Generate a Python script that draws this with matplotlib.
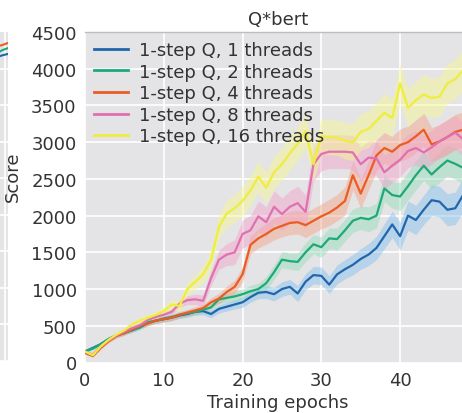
import numpy as np
import matplotlib
matplotlib.use("Agg")
import matplotlib.pyplot as plt

epochs = list(range(50))

blue = [150, 200, 250, 320, 370, 410, 440, 480, 540, 570,
        590, 610, 640, 660, 690, 700, 660, 730, 760, 790,
        820, 890, 950, 960, 930, 1000, 1030, 940, 1100, 1190,
        1180, 1060, 1200, 1270, 1330, 1410, 1470, 1560, 1720, 1880,
        1720, 2000, 1940, 2080, 2210, 2190, 2080, 2100, 2280, 2300]
green = [150, 190, 250, 320, 370, 400, 440, 480, 550, 570,
         600, 620, 650, 670, 690, 720, 750, 860, 880, 900,
         930, 970, 1000, 1080, 1230, 1400, 1380, 1370, 1500, 1610,
         1570, 1690, 1680, 1800, 1930, 1970, 1950, 2000, 2370, 2280,
         2260, 2400, 2550, 2680, 2560, 2660, 2750, 2705, 2650, 2700]
orange = [130, 90, 200, 290, 360, 400, 450, 500, 530, 570,
          590, 610, 650, 680, 710, 740, 820, 870, 960, 1030,
          1200, 1600, 1690, 1750, 1820, 1860, 1900, 1910, 1870, 1930,
          1990, 2040, 2110, 2200, 2550, 2300, 2550, 2820, 2920, 2870,
          2960, 3000, 3080, 3170, 2970, 3010, 3070, 3140, 3170, 3200]
pink = [140, 110, 220, 300, 370, 420, 470, 510, 580, 620,
        650, 690, 800, 850, 860, 840, 1150, 1400, 1470, 1500,
        1750, 1800, 1990, 1910, 2120, 2020, 2120, 2170, 2050, 2700,
        2840, 2870, 2870, 2870, 2860, 2700, 2790, 2780, 2590, 2680,
        2760, 2880, 2920, 2860, 2930, 3010, 3070, 3130, 3040, 3080]
yellow = [150, 100, 220, 310, 380, 440, 520, 570, 610, 650,
          700, 790, 770, 1000, 1100, 1200, 1400, 1850, 2030, 2100,
          2200, 2340, 2530, 2380, 2590, 2700, 2850, 2980, 3150, 2700,
          3080, 3070, 3060, 3020, 3000, 3140, 3180, 3290, 3400, 3330,
          3800, 3470, 3570, 3650, 3600, 3620, 3800, 3860, 3980, 3950]

# half-widths of the shaded spread
blue_sd = [20, 20, 25, 25, 30, 30, 30, 30, 35, 35,
           40, 40, 40, 45, 45, 50, 50, 55, 60, 60,
           70, 70, 80, 90, 90, 100, 100, 110, 110, 120,
           120, 120, 130, 130, 140, 140, 150, 160, 170, 180,
           190, 200, 200, 200, 210, 210, 220, 220, 230, 230]
green_sd = [20, 20, 25, 25, 30, 30, 30, 30, 35, 35,
            40, 40, 40, 45, 45, 50, 50, 60, 60, 70,
            70, 80, 80, 90, 100, 110, 110, 120, 130, 130,
            140, 140, 150, 150, 160, 160, 170, 170, 180, 180,
            190, 190, 200, 200, 200, 210, 210, 210, 220, 220]
orange_sd = [20, 20, 25, 25, 30, 30, 30, 30, 35, 35,
             40, 40, 45, 45, 50, 50, 60, 70, 80, 90,
             100, 120, 130, 140, 150, 150, 160, 160, 170, 170,
             170, 180, 180, 190, 200, 200, 200, 210, 210, 210,
             220, 220, 220, 230, 230, 230, 240, 240, 240, 240]
pink_sd = [20, 20, 25, 25, 30, 30, 35, 35, 40, 40,
           40, 45, 50, 60, 70, 80, 100, 130, 150, 170,
           190, 200, 210, 210, 220, 220, 220, 230, 230, 230,
           230, 230, 230, 230, 230, 230, 230, 230, 230, 230,
           230, 230, 230, 230, 230, 230, 230, 230, 230, 230]
yellow_sd = [20, 20, 25, 25, 30, 30, 40, 40, 50, 50,
             60, 70, 70, 90, 100, 120, 140, 160, 180, 190,
             200, 200, 210, 210, 220, 220, 230, 230, 230, 240,
             240, 240, 240, 250, 250, 250, 250, 250, 260, 260,
             260, 260, 260, 270, 270, 270, 270, 270, 280, 280]

labels = ["1-step Q, 1 threads", "1-step Q, 2 threads", "1-step Q, 4 threads",
          "1-step Q, 8 threads", "1-step Q, 16 threads"]
series = [blue, green, orange, pink, yellow]
spreads = [blue_sd, green_sd, orange_sd, pink_sd, yellow_sd]
colors = ["#2166ac", "#1fa87a", "#ea5d22", "#e070b0", "#eeee3e"]
band_colors = ["#7fbfef", "#8fdcb8", "#f4a080", "#f2a0c8", "#f6f68a"]

# neighbouring panel (only its right edge is visible)
nb_x = [0, 10, 20, 30, 40, 48, 49, 50]
nb_a = [500, 1500, 2500, 3500, 4100, 4300, 4320, 4350]
nb_b = [400, 1300, 2300, 3300, 4000, 4200, 4250, 4280]
nb_c = [300, 1100, 2100, 3100, 3900, 4150, 4180, 4200]

bg = "#e4e4e6"
grid_c = "white"
text_c = "#333333"
fs = 13

W, H = 462, 414
fig = plt.figure(figsize=(W / 100, H / 100), dpi=100)

ax0 = fig.add_axes([(8 - 300) / W, 1 - 362 / H, 300 / W, (362 - 33) / H])
ax0.set_facecolor(bg)
for s in ax0.spines.values():
    s.set_visible(False)
ax0.set_xlim(0, 50)
ax0.set_ylim(0, 4500)
ax0.set_yticks([0, 500, 1000, 1500, 2000, 2500, 3000, 3500, 4000])
ax0.set_xticks([0, 10, 20, 30, 40, 49.5])
ax0.grid(True, color=grid_c, lw=1.2)
ax0.set_axisbelow(True)
ax0.tick_params(labelleft=False, labelbottom=False, length=0)
for yv, c in zip([nb_a, nb_b, nb_c], ["#ea5d22", "#1fa87a", "#2166ac"]):
    ax0.plot(nb_x, yv, color=c, lw=1.5)

ax = fig.add_axes([85 / W, 1 - 363.5 / H, 386 / W, (363.5 - 33) / H])
ax.set_facecolor(bg)
for i in range(5):
    x = np.array(epochs)
    y = np.array(series[i], dtype=float)
    sd = np.array(spreads[i], dtype=float)
    ax.fill_between(x, y - sd, y + sd, color=band_colors[i], alpha=0.45, lw=0)
for i in range(5):
    ax.plot(epochs, series[i], color=colors[i], lw=1.6, label=labels[i])

ax.set_xlim(0, 49)
ax.set_ylim(0, 4500)
ax.set_xticks([0, 10, 20, 30, 40])
ax.set_yticks(range(0, 4501, 500))
ax.grid(True, color=grid_c, lw=1.2)
ax.set_axisbelow(True)
ax.tick_params(length=0, labelsize=fs, colors=text_c, pad=6)
for side in ["left", "bottom", "right"]:
    ax.spines[side].set_visible(False)
ax.spines["top"].set_color("#bdbdbd")
ax.spines["top"].set_linewidth(1.0)

ax.set_title("Q*bert", fontsize=fs, color=text_c, pad=6)
ax.set_xlabel("Training epochs", fontsize=fs, color=text_c, labelpad=3)
ax.set_ylabel("Score", fontsize=fs, color=text_c)
ax.yaxis.set_label_coords(-0.163, 0.564)

leg = ax.legend(loc="upper left", frameon=False, fontsize=fs,
                labelspacing=0.2, handlelength=1.9, handletextpad=0.6,
                borderaxespad=0.25, borderpad=0.25)
for t in leg.get_texts():
    t.set_color(text_c)
for h in leg.get_lines():
    h.set_linewidth(2.0)

fig.savefig("out.png", dpi=100, facecolor="white")
